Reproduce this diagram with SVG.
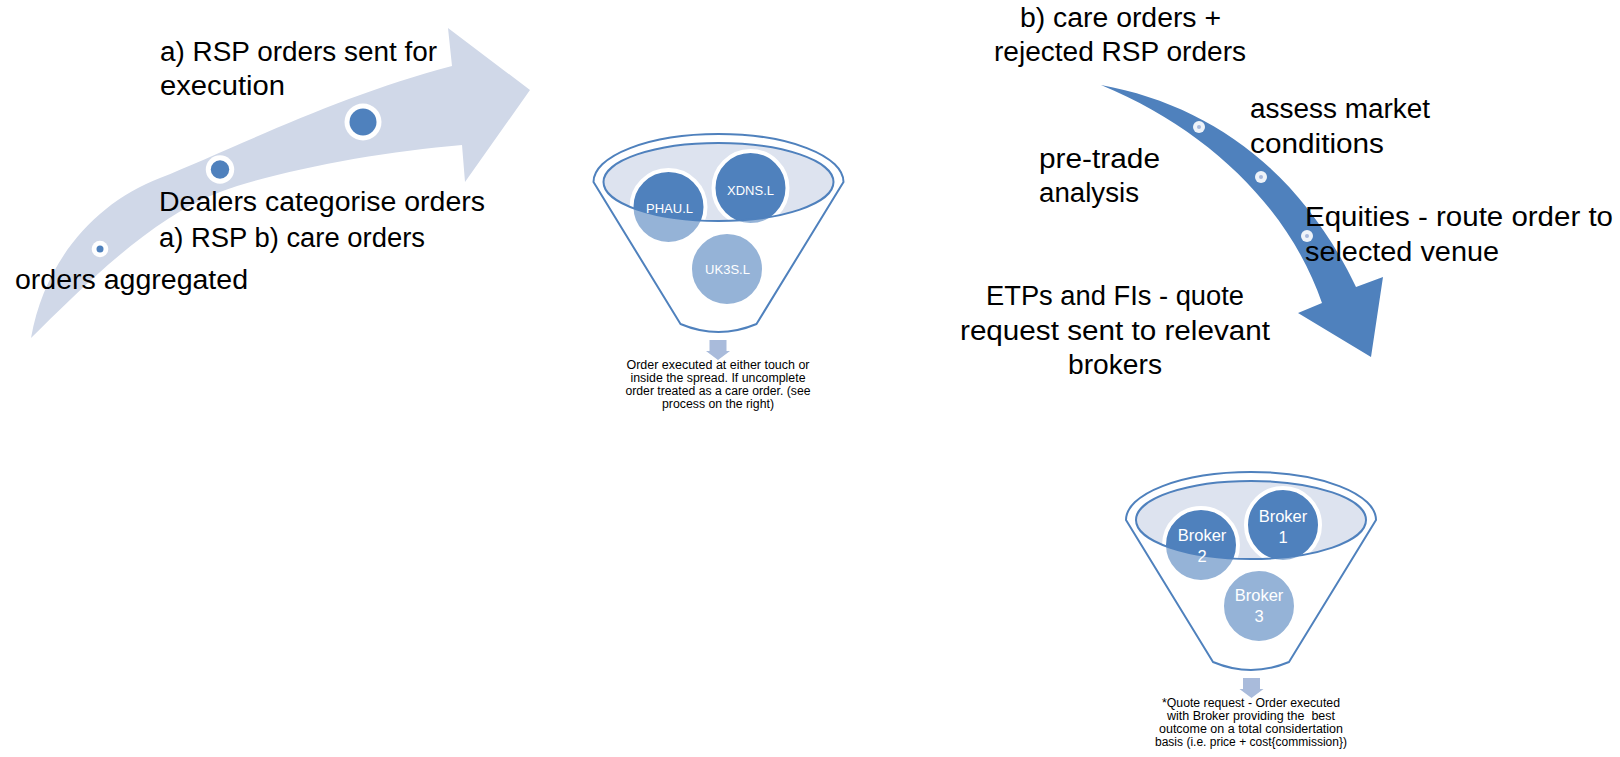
<svg xmlns="http://www.w3.org/2000/svg" xmlns:xlink="http://www.w3.org/1999/xlink" width="1620" height="757" viewBox="0 0 1620 757">
  <style>
    .lbl { font-family: "Liberation Sans", Arial, sans-serif; font-size: 27px; fill: #000; }
    .cap { font-family: "Liberation Sans", Arial, sans-serif; font-size: 12px; fill: #000; text-anchor: middle; }
    .ball { font-family: "Liberation Sans", Arial, sans-serif; fill: #fff; text-anchor: middle; }
    .disc { fill: #4F81BD; stroke: #fff; stroke-width: 4; }
    .rim { fill: none; stroke: #4F81BD; stroke-width: 2; }
    .mouth { fill: #DDE3EF; }
    .veil { fill: #fff; fill-opacity: 0.4; fill-rule: evenodd; }
    .drop { fill: #A9BBDB; }
    .stepRing { fill: #fff; }
    .stepDot { fill: #4F81BD; }
    .tickRing { fill: #fff; fill-opacity: 0.9; }
    .tickDot { fill: #A7B9DC; }
  </style>
  <defs>
    <!-- funnel geometry, centred on the middle of the rim -->
    <path id="funnelOutline" d="M -125,0 A 125 48 0 0 1 125,0 L 38,142 Q 0,158 -38,142 Z"/>
    <path id="funnelMouth" d="M -115,0 A 115 39 0 1 1 115,0 A 115 39 0 1 1 -115,0 Z"/>
    <path id="funnelVeil" d="M -125,0 A 125 48 0 0 1 125,0 L 38,142 Q 0,158 -38,142 Z M -115,0 A 115 39 0 1 1 115,0 A 115 39 0 1 1 -115,0 Z"/>
    <path id="dropArrow" d="M -8.5,158 H 8.5 V 169 H 12 L 0,178 L -12,169 H -8.5 Z"/>
  </defs>

  <!-- ascending process arrow on the left -->
  <g id="ascending-arrow">
    <path fill="#D0D8E8" d="M 31,338 C 45,260 95,203 160,178 C 230,150 340,95 452,66 L 448,28 L 530,90 L 465,182 L 462,145 C 380,152 280,170 220,192 C 150,218 80,290 31,338 Z"/>
    <circle class="stepRing" cx="100" cy="249" r="8.3"/>
    <circle class="stepDot" cx="100" cy="249" r="3.5"/>
    <circle class="stepRing" cx="220" cy="169.5" r="14.2"/>
    <circle class="stepDot" cx="220" cy="169.5" r="9.2"/>
    <circle class="stepRing" cx="363" cy="122" r="18.5"/>
    <circle class="stepDot" cx="363" cy="122" r="13.5"/>
  </g>
  <g id="step-sent">
    <text class="lbl" x="160" y="61" textLength="277" lengthAdjust="spacingAndGlyphs">a) RSP orders sent for</text>
    <text class="lbl" x="160" y="95" textLength="125" lengthAdjust="spacingAndGlyphs">execution</text>
  </g>
  <g id="step-categorise">
    <text class="lbl" x="159" y="211" textLength="326" lengthAdjust="spacingAndGlyphs">Dealers categorise orders</text>
    <text class="lbl" x="159" y="247" textLength="266" lengthAdjust="spacingAndGlyphs">a) RSP b) care orders</text>
  </g>
  <g id="step-aggregated">
    <text class="lbl" x="15" y="289" textLength="233" lengthAdjust="spacingAndGlyphs">orders aggregated</text>
  </g>

  <!-- RSP funnel -->
  <g id="funnel-rsp" transform="translate(718.5,182)">
    <use href="#funnelMouth" class="mouth"/>
    <circle class="disc" cx="-50" cy="25" r="37"/>
    <circle class="disc" cx="32" cy="6" r="37"/>
    <circle class="disc" cx="8.5" cy="87" r="37"/>
    <use href="#funnelVeil" class="veil"/>
    <use href="#funnelOutline" class="rim"/>
    <use href="#funnelMouth" class="rim"/>
    <text class="ball" font-size="13" x="-49" y="31">PHAU.L</text>
    <text class="ball" font-size="13" x="32" y="13">XDNS.L</text>
    <text class="ball" font-size="13" x="9" y="92">UK3S.L</text>
  </g>
  <g id="caption-rsp">
    <text class="cap" x="718" y="369" textLength="183" lengthAdjust="spacingAndGlyphs">Order executed at either touch or</text>
    <text class="cap" x="718" y="382" textLength="175" lengthAdjust="spacingAndGlyphs">inside the spread. If uncomplete</text>
    <text class="cap" x="718" y="395" textLength="185" lengthAdjust="spacingAndGlyphs">order treated as a care order. (see</text>
    <text class="cap" x="718" y="408" textLength="112" lengthAdjust="spacingAndGlyphs">process on the right)</text>
  </g>

  <!-- care order arrow on the right -->
  <g id="care-arrow">
    <path fill="#4F81BD" d="M 1101,85 C 1210,105 1300,170 1356,287 L 1383,277 L 1371,357 L 1298,313 L 1322,303 C 1290,210 1210,130 1101,85 Z"/>
    <circle class="tickRing" cx="1199" cy="127" r="6"/>
    <circle class="tickDot" cx="1199" cy="127" r="2"/>
    <circle class="tickRing" cx="1261" cy="177" r="6"/>
    <circle class="tickDot" cx="1261" cy="177" r="2"/>
    <circle class="tickRing" cx="1307" cy="236" r="6"/>
    <circle class="tickDot" cx="1307" cy="236" r="2"/>
  </g>
  <g id="care-start">
    <text class="lbl" x="1020" y="27" textLength="201" lengthAdjust="spacingAndGlyphs">b) care orders +</text>
    <text class="lbl" x="994" y="61" textLength="252" lengthAdjust="spacingAndGlyphs">rejected RSP orders</text>
  </g>
  <g id="care-assess">
    <text class="lbl" x="1250" y="118" textLength="180" lengthAdjust="spacingAndGlyphs">assess market</text>
    <text class="lbl" x="1250" y="153" textLength="134" lengthAdjust="spacingAndGlyphs">conditions</text>
  </g>
  <g id="care-pretrade">
    <text class="lbl" x="1039" y="168" textLength="121" lengthAdjust="spacingAndGlyphs">pre-trade</text>
    <text class="lbl" x="1039" y="202" textLength="100" lengthAdjust="spacingAndGlyphs">analysis</text>
  </g>
  <g id="care-equities">
    <text class="lbl" x="1305" y="226" textLength="308" lengthAdjust="spacingAndGlyphs">Equities - route order to</text>
    <text class="lbl" x="1305" y="261" textLength="194" lengthAdjust="spacingAndGlyphs">selected venue</text>
  </g>
  <g id="care-quote">
    <text class="lbl" x="986" y="305" textLength="258" lengthAdjust="spacingAndGlyphs">ETPs and FIs - quote</text>
    <text class="lbl" x="960" y="340" textLength="310" lengthAdjust="spacingAndGlyphs">request sent to relevant</text>
    <text class="lbl" x="1068" y="374" textLength="94" lengthAdjust="spacingAndGlyphs">brokers</text>
  </g>

  <!-- broker funnel -->
  <g id="funnel-brokers" transform="translate(1251,520)">
    <use href="#funnelMouth" class="mouth"/>
    <circle class="disc" cx="-50" cy="25" r="37"/>
    <circle class="disc" cx="32" cy="5" r="37"/>
    <circle class="disc" cx="8" cy="86" r="37"/>
    <use href="#funnelVeil" class="veil"/>
    <use href="#funnelOutline" class="rim"/>
    <use href="#funnelMouth" class="rim"/>
    <text class="ball" font-size="16.5" x="-49" y="21">Broker</text>
    <text class="ball" font-size="16.5" x="-49" y="42">2</text>
    <text class="ball" font-size="16.5" x="32" y="2">Broker</text>
    <text class="ball" font-size="16.5" x="32" y="23">1</text>
    <text class="ball" font-size="16.5" x="8" y="81">Broker</text>
    <text class="ball" font-size="16.5" x="8" y="102">3</text>
  </g>
  <g id="caption-brokers">
    <text class="cap" x="1251" y="707" textLength="178" lengthAdjust="spacingAndGlyphs">*Quote request - Order executed</text>
    <text class="cap" x="1251" y="720" textLength="168" lengthAdjust="spacingAndGlyphs" style="white-space:pre">with Broker providing the  best</text>
    <text class="cap" x="1251" y="733" textLength="184" lengthAdjust="spacingAndGlyphs">outcome on a total considertation</text>
    <text class="cap" x="1251" y="746" textLength="192" lengthAdjust="spacingAndGlyphs">basis (i.e. price + cost{commission})</text>
  </g>

  <!-- small arrows leading out of each funnel -->
  <g id="connectors">
    <use href="#dropArrow" class="drop" transform="translate(718,182)"/>
    <use href="#dropArrow" class="drop" transform="translate(1251.5,520)"/>
  </g>
</svg>
